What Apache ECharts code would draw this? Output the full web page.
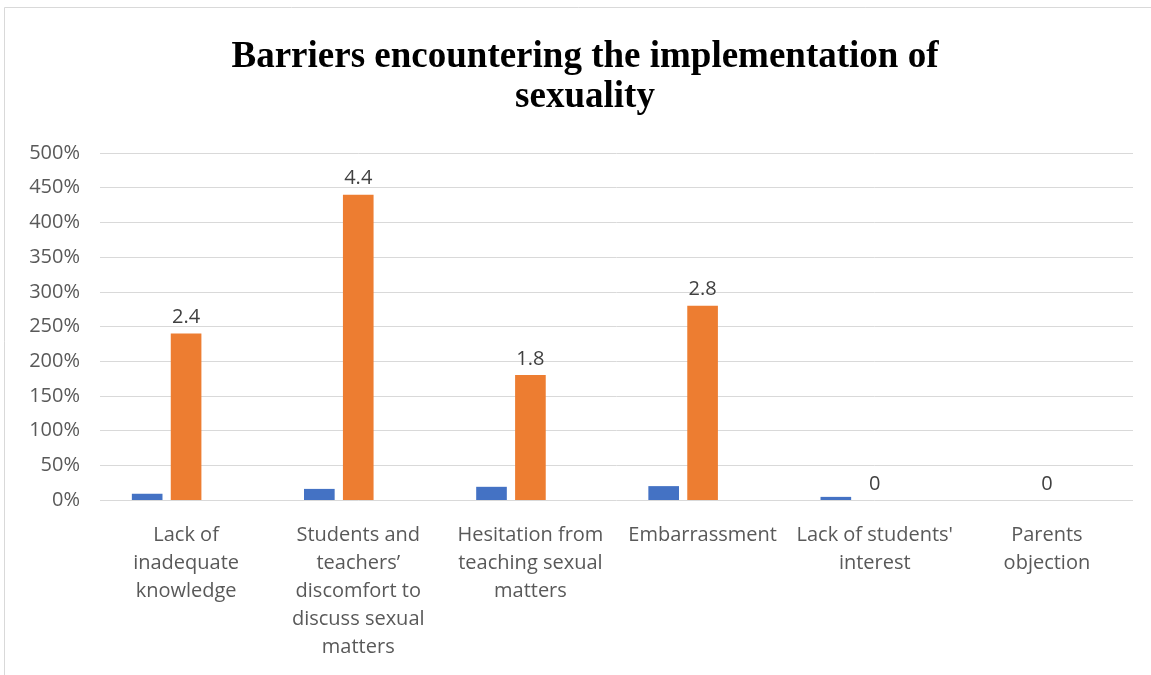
<!DOCTYPE html>
<html><head><meta charset="utf-8">
<script src="https://cdn.jsdelivr.net/npm/echarts@6/dist/echarts.min.js"></script>
<style>html,body{margin:0;padding:0;background:#fff}#c{width:1151px;height:675px}</style>
</head><body><div id="c"></div>
<script>
const categories = ["Lack of\ninadequate\nknowledge", "Students and\nteachers’\ndiscomfort to\ndiscuss sexual\nmatters", "Hesitation from\nteaching sexual\nmatters", "Embarrassment", "Lack of students'\ninterest", "Parents\nobjection"];
const seriesBlue = [0.09, 0.16, 0.19, 0.2, 0.045, 0];
const seriesOrange = [2.4, 4.4, 1.8, 2.8, 0, 0];
const seriesThird = [0, 0, 0, 0, 0, 0];
const yMin = 0, yMax = 5, yStep = 0.5;

const chart = echarts.init(document.getElementById('c'));
chart.setOption({
  animation: false,
  backgroundColor: '#fff',
  graphic: [{type: 'rect', shape: {x: 4.5, y: 7.5, width: 1160, height: 700}, style: {fill: 'none', stroke: '#d9d9d9', lineWidth: 1}, silent: true}],
  title: {
    text: 'Barriers encountering the implementation of\nsexuality',
    left: 580, textAlign: 'center', top: 32,
    textStyle: {fontFamily: 'Liberation Serif', fontWeight: 'bold', fontSize: 37, color: '#000', lineHeight: 40}
  },
  grid: {left: 100, right: 18, top: 153, bottom: 175, containLabel: false},
  xAxis: {
    type: 'category', data: categories,
    axisLine: {show: false}, axisTick: {show: false},
    axisLabel: {interval: 0, margin: 21, fontFamily: 'Open Sans', fontSize: 20, color: '#595959', lineHeight: 28, verticalAlign: 'top'}
  },
  yAxis: {
    type: 'value', min: yMin, max: yMax, interval: yStep,
    axisLine: {show: false}, axisTick: {show: false},
    splitLine: {lineStyle: {color: '#d9d9d9', width: 1}},
    axisLabel: {fontFamily: 'Open Sans', fontSize: 20, color: '#595959', margin: 20,
      formatter: v => Math.round(v * 100) + '%'}
  },
  series: [
    {type: 'bar', data: seriesBlue, itemStyle: {color: '#4472c4'}, barGap: '27%', barCategoryGap: '37%'},
    {type: 'bar', data: seriesOrange, itemStyle: {color: '#ed7d31'},
      label: {show: true, position: 'top', distance: 6, fontFamily: 'Open Sans', fontSize: 20, color: '#404040'}},
    {type: 'bar', data: seriesThird, itemStyle: {color: '#a5a5a5'}}
  ]
});
</script></body></html>
